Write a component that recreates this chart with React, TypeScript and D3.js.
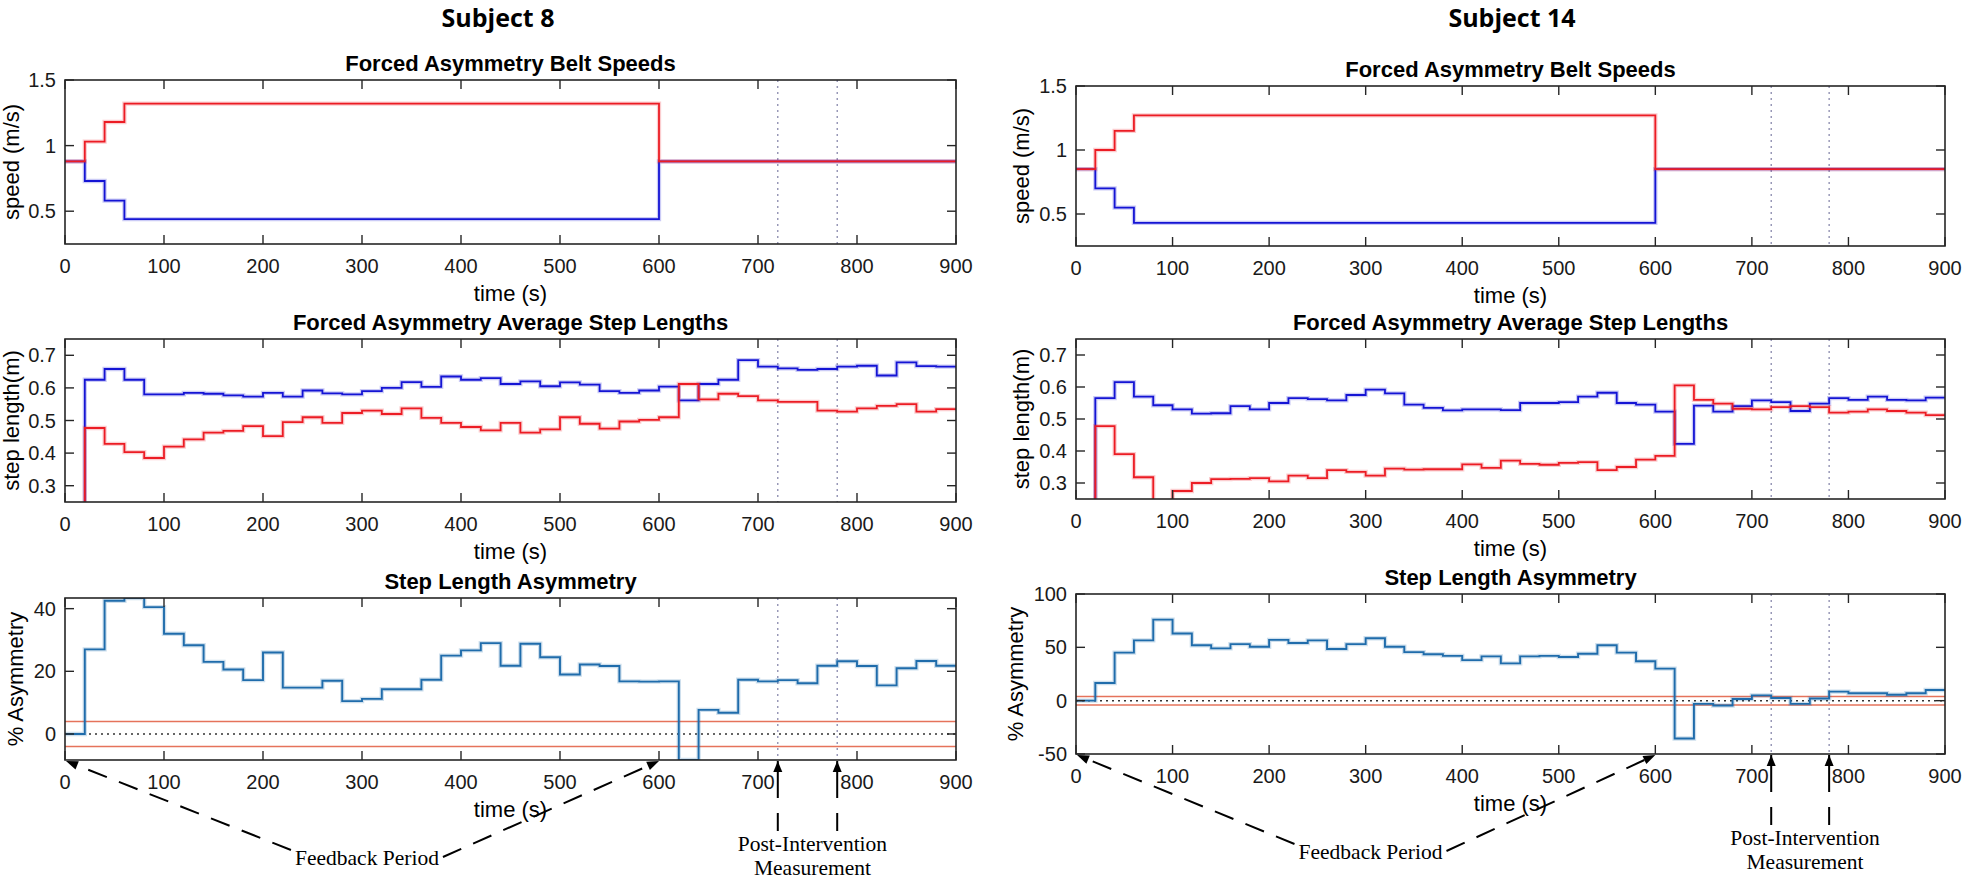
import React from 'react';
import * as d3 from 'd3';

// ---------------- DATA ----------------
const binStarts = [0, 20, 40, 60, 80, 100, 120, 140, 160, 180, 200, 220, 240, 260, 280, 300, 320, 340, 360, 380, 400, 420, 440, 460, 480, 500, 520, 540, 560, 580, 600, 620, 640, 660, 680, 700, 720, 740, 760, 780, 800, 820, 840, 860, 880];
const timeEnd = 900;
const xTicks = [0, 100, 200, 300, 400, 500, 600, 700, 800, 900];
const measureTimes = [720, 780];
const feedbackTimes = [0, 600];

const beltTimes = [0, 20, 40, 60, 600];
const s8BeltRed = [0.88, 1.03, 1.18, 1.32, 0.88];
const s8BeltBlue = [0.88, 0.73, 0.58, 0.44, 0.88];
const s14BeltRed = [0.85, 1.0, 1.15, 1.27, 0.85];
const s14BeltBlue = [0.85, 0.7, 0.55, 0.43, 0.85];

const s8StepBlue = [0, 0.625, 0.658, 0.625, 0.58, 0.58, 0.585, 0.582, 0.577, 0.573, 0.585, 0.573, 0.592, 0.583, 0.58, 0.59, 0.6, 0.618, 0.603, 0.635, 0.625, 0.63, 0.612, 0.62, 0.605, 0.617, 0.61, 0.59, 0.585, 0.592, 0.604, 0.562, 0.612, 0.625, 0.685, 0.665, 0.66, 0.655, 0.658, 0.665, 0.668, 0.638, 0.678, 0.667, 0.665];
const s8StepRed = [0, 0.477, 0.428, 0.403, 0.385, 0.42, 0.442, 0.463, 0.468, 0.483, 0.452, 0.495, 0.51, 0.493, 0.523, 0.53, 0.52, 0.537, 0.508, 0.493, 0.48, 0.47, 0.493, 0.463, 0.473, 0.51, 0.49, 0.475, 0.497, 0.502, 0.51, 0.612, 0.565, 0.582, 0.575, 0.562, 0.557, 0.557, 0.53, 0.527, 0.537, 0.545, 0.55, 0.527, 0.535];
const s8Asym = [0, 27, 42.5, 43.4, 40.5, 32, 28.3, 23, 20.6, 17.2, 26, 14.8, 14.8, 17, 10.5, 11.2, 14.3, 14.3, 17.3, 25, 26.7, 29, 21.8, 28.8, 24.5, 19, 22.2, 21.7, 16.8, 16.7, 16.8, -8.3, 7.7, 6.8, 17.3, 16.8, 17.2, 16.2, 21.8, 23.2, 21.7, 15.5, 21, 23.3, 21.8];

const s14StepBlue = [0, 0.565, 0.615, 0.57, 0.543, 0.53, 0.517, 0.518, 0.54, 0.53, 0.55, 0.565, 0.562, 0.558, 0.575, 0.592, 0.58, 0.545, 0.535, 0.527, 0.53, 0.53, 0.528, 0.55, 0.55, 0.553, 0.57, 0.582, 0.55, 0.545, 0.523, 0.422, 0.542, 0.523, 0.54, 0.558, 0.553, 0.525, 0.548, 0.565, 0.56, 0.57, 0.56, 0.558, 0.567];
const s14StepRed = [0, 0.478, 0.39, 0.318, 0.244, 0.275, 0.3, 0.312, 0.313, 0.315, 0.305, 0.323, 0.315, 0.34, 0.335, 0.323, 0.345, 0.342, 0.343, 0.343, 0.358, 0.347, 0.37, 0.36, 0.357, 0.363, 0.365, 0.34, 0.35, 0.373, 0.385, 0.605, 0.56, 0.548, 0.532, 0.53, 0.537, 0.54, 0.537, 0.52, 0.523, 0.53, 0.525, 0.52, 0.512];
const s14Asym = [0, 16.5, 45, 56.5, 76, 63, 52, 49, 53, 50.5, 57, 54, 56.5, 48.5, 53, 58.5, 50.5, 45.5, 43.5, 42, 38, 41.5, 35, 41.5, 42, 41, 44, 52, 45, 37, 30, -35.5, -3, -4.5, 1.5, 5, 2.5, -3, 2, 8.5, 7, 7, 5.5, 7, 10];

const asymThreshold = [4, -4];

// ---------------- STYLE ----------------
const SANS = "'Liberation Sans', Arial, Helvetica, sans-serif";
const SERIF = "'Liberation Serif', 'Times New Roman', serif";
const AXIS_COLOR = '#262626';
const RED = '#ec1c24';
const BLUE = '#1414d4';
const ASYM = '#1f6cab';
const THRESH = '#e5735b';
const MARK = '#7f7fa6';

type Series = { times: number[]; values: number[]; color: string; width: number };
type HLine = { v: number; color: string; width: number; dash?: string };
type PanelSpec = {
  top: number; bottom: number; title: string; ylabel: string;
  yDomain: [number, number]; yTicks: number[]; ylabelOffset: number;
  series: Series[]; hlines: HLine[]; annotate?: boolean;
};
type ColumnSpec = { id: string; left: number; right: number; subject: string; subjectX: number; panels: PanelSpec[] };

const columns: ColumnSpec[] = [
  {
    id: 's8', left: 65, right: 956, subject: 'Subject 8', subjectX: 498,
    panels: [
      { top: 80, bottom: 244, title: 'Forced Asymmetry Belt Speeds', ylabel: 'speed (m/s)', yDomain: [0.25, 1.5], yTicks: [0.5, 1, 1.5], ylabelOffset: 46,
        series: [{ times: beltTimes, values: s8BeltBlue, color: BLUE, width: 1.8 }, { times: beltTimes, values: s8BeltRed, color: RED, width: 1.8 }], hlines: [] },
      { top: 339, bottom: 502, title: 'Forced Asymmetry Average Step Lengths', ylabel: 'step length(m)', yDomain: [0.25, 0.75], yTicks: [0.3, 0.4, 0.5, 0.6, 0.7], ylabelOffset: 46,
        series: [{ times: binStarts, values: s8StepBlue, color: BLUE, width: 1.8 }, { times: binStarts, values: s8StepRed, color: RED, width: 1.8 }], hlines: [] },
      { top: 598, bottom: 760, title: 'Step Length Asymmetry', ylabel: '% Asymmetry', yDomain: [-8.3, 43.4], yTicks: [0, 20, 40], ylabelOffset: 42,
        series: [{ times: binStarts, values: s8Asym, color: ASYM, width: 1.9 }],
        hlines: [{ v: asymThreshold[0], color: THRESH, width: 1.5 }, { v: asymThreshold[1], color: THRESH, width: 1.5 }, { v: 0, color: '#333', width: 1.5, dash: '2,4' }], annotate: true },
    ],
  },
  {
    id: 's14', left: 1076, right: 1945, subject: 'Subject 14', subjectX: 1512,
    panels: [
      { top: 86, bottom: 246, title: 'Forced Asymmetry Belt Speeds', ylabel: 'speed (m/s)', yDomain: [0.25, 1.5], yTicks: [0.5, 1, 1.5], ylabelOffset: 47,
        series: [{ times: beltTimes, values: s14BeltBlue, color: BLUE, width: 1.8 }, { times: beltTimes, values: s14BeltRed, color: RED, width: 1.8 }], hlines: [] },
      { top: 339, bottom: 499, title: 'Forced Asymmetry Average Step Lengths', ylabel: 'step length(m)', yDomain: [0.25, 0.75], yTicks: [0.3, 0.4, 0.5, 0.6, 0.7], ylabelOffset: 47,
        series: [{ times: binStarts, values: s14StepBlue, color: BLUE, width: 1.8 }, { times: binStarts, values: s14StepRed, color: RED, width: 1.8 }], hlines: [] },
      { top: 594, bottom: 754, title: 'Step Length Asymmetry', ylabel: '% Asymmetry', yDomain: [-50, 100], yTicks: [-50, 0, 50, 100], ylabelOffset: 53,
        series: [{ times: binStarts, values: s14Asym, color: ASYM, width: 1.9 }],
        hlines: [{ v: asymThreshold[0], color: THRESH, width: 1.5 }, { v: asymThreshold[1], color: THRESH, width: 1.5 }, { v: 0, color: '#333', width: 1.5, dash: '2,4' }], annotate: true },
    ],
  },
];

function arrowHead(tx: number, ty: number, fx: number, fy: number, len = 12, halfW = 4.5) {
  const dx = tx - fx, dy = ty - fy;
  const d = Math.hypot(dx, dy) || 1;
  const ux = dx / d, uy = dy / d;
  const bx = tx - ux * len, by = ty - uy * len;
  const px = -uy * halfW, py = ux * halfW;
  return { points: `${tx},${ty} ${bx + px},${by + py} ${bx - px},${by - py}`, bx, by };
}

function Panel({ col, p, idx }: { col: ColumnSpec; p: PanelSpec; idx: number }) {
  const x = d3.scaleLinear().domain([0, timeEnd]).range([col.left, col.right]);
  const y = d3.scaleLinear().domain(p.yDomain).range([p.bottom, p.top]);
  const clipId = `clip-${col.id}-${idx}`;
  const tickLen = 9;
  const line = d3.line<[number, number]>().x(d => x(d[0])).y(d => y(d[1])).curve(d3.curveStepAfter);
  const cx = (col.left + col.right) / 2;
  const cy = (p.top + p.bottom) / 2;

  return (
    <g>
      <defs>
        <clipPath id={clipId}>
          <rect x={col.left} y={p.top} width={col.right - col.left} height={p.bottom - p.top} />
        </clipPath>
      </defs>
      <text x={cx} y={p.top - 9} textAnchor="middle" fontFamily={SANS} fontWeight="bold" fontSize={22} fill="#000">{p.title}</text>
      <g clipPath={`url(#${clipId})`}>
        {measureTimes.map(t => (
          <line key={t} x1={x(t)} x2={x(t)} y1={p.top} y2={p.bottom} stroke={MARK} strokeWidth={1.2} strokeDasharray="2,4" />
        ))}
        {p.hlines.map((h, i) => (
          <line key={i} x1={col.left} x2={col.right} y1={y(h.v)} y2={y(h.v)} stroke={h.color} strokeWidth={h.width} strokeDasharray={h.dash} />
        ))}
        {p.series.map((s, i) => {
          const pts: [number, number][] = s.times.map((t, j) => [t, s.values[j]] as [number, number]);
          pts.push([timeEnd, s.values[s.values.length - 1]]);
          const dstr = line(pts) || '';
          return (
            <g key={i}>
              <path d={dstr} fill="none" stroke={s.color} strokeOpacity={0.22} strokeWidth={s.width + 2.5} />
              <path d={dstr} fill="none" stroke={s.color} strokeWidth={s.width} />
            </g>
          );
        })}
      </g>
      <rect x={col.left} y={p.top} width={col.right - col.left} height={p.bottom - p.top} fill="none" stroke={AXIS_COLOR} strokeWidth={1.6} />
      {xTicks.map(t => (
        <g key={t}>
          <line x1={x(t)} x2={x(t)} y1={p.bottom} y2={p.bottom - tickLen} stroke={AXIS_COLOR} strokeWidth={1.4} />
          <line x1={x(t)} x2={x(t)} y1={p.top} y2={p.top + tickLen} stroke={AXIS_COLOR} strokeWidth={1.4} />
          <text x={x(t)} y={p.bottom + 29} textAnchor="middle" fontFamily={SANS} fontSize={20} fill="#1a1a1a">{t}</text>
        </g>
      ))}
      {p.yTicks.map(v => (
        <g key={v}>
          <line x1={col.left} x2={col.left + tickLen} y1={y(v)} y2={y(v)} stroke={AXIS_COLOR} strokeWidth={1.4} />
          <line x1={col.right} x2={col.right - tickLen} y1={y(v)} y2={y(v)} stroke={AXIS_COLOR} strokeWidth={1.4} />
          <text x={col.left - 9} y={y(v) + 7} textAnchor="end" fontFamily={SANS} fontSize={20} fill="#1a1a1a">{String(v)}</text>
        </g>
      ))}
      <text x={cx} y={p.bottom + 57} textAnchor="middle" fontFamily={SANS} fontSize={22} fill="#000">time (s)</text>
      <text transform={`translate(${col.left - p.ylabelOffset},${cy}) rotate(-90)`} textAnchor="middle" fontFamily={SANS} fontSize={22} fill="#000">{p.ylabel}</text>
      {p.annotate && <Annotations col={col} p={p} x={x} />}
    </g>
  );
}

function Annotations({ col, p, x }: { col: ColumnSpec; p: PanelSpec; x: d3.ScaleLinear<number, number> }) {
  const fbCx = x(305);
  const fbBase = p.bottom + 105;
  const halfText = 73;
  const start1 = { x: fbCx - halfText - 3, y: fbBase - 15 };
  const start2 = { x: fbCx + halfText + 3, y: fbBase - 8 };
  const tip1 = { x: x(feedbackTimes[0]) + 1, y: p.bottom + 1 };
  const tip2 = { x: x(feedbackTimes[1]), y: p.bottom + 1 };
  const a1 = arrowHead(tip1.x, tip1.y, start1.x, start1.y);
  const a2 = arrowHead(tip2.x, tip2.y, start2.x, start2.y);
  const piCx = x(755);
  return (
    <g>
      <line x1={start1.x} y1={start1.y} x2={a1.bx} y2={a1.by} stroke="#000" strokeWidth={2} strokeDasharray="20,13" />
      <polygon points={a1.points} fill="#000" />
      <line x1={start2.x} y1={start2.y} x2={a2.bx} y2={a2.by} stroke="#000" strokeWidth={2} strokeDasharray="20,13" />
      <polygon points={a2.points} fill="#000" />
      <text x={fbCx} y={fbBase} textAnchor="middle" fontFamily={SERIF} fontSize={21.5} fill="#000">Feedback Period</text>
      {measureTimes.map(t => {
        const tip = { x: x(t), y: p.bottom + 1 };
        const a = arrowHead(tip.x, tip.y, tip.x, tip.y + 50, 11, 4.5);
        return (
          <g key={t}>
            <line x1={tip.x} x2={tip.x} y1={p.bottom + 1} y2={p.bottom + 72} stroke="#000" strokeWidth={2} strokeDasharray="37,15,18,200" />
            <polygon points={a.points} fill="#000" />
          </g>
        );
      })}
      <text x={piCx} y={p.bottom + 91} textAnchor="middle" fontFamily={SERIF} fontSize={21.5} fill="#000">Post-Intervention</text>
      <text x={piCx} y={p.bottom + 115} textAnchor="middle" fontFamily={SERIF} fontSize={21.5} fill="#000">Measurement</text>
    </g>
  );
}

export default function App() {
  return (
    <svg width={1968} height={880} style={{ position: 'absolute', left: 0, top: 0, background: '#fff' }} xmlns="http://www.w3.org/2000/svg">
      <rect x={0} y={0} width={1968} height={880} fill="#fff" />
      {columns.map(col => (
        <g key={col.id}>
          <text x={col.subjectX} y={27} textAnchor="middle" fontFamily="'Open Sans', 'Noto Sans', sans-serif" fontWeight="bold" fontSize={25} fill="#000">{col.subject}</text>
          {col.panels.map((p, i) => <Panel key={i} col={col} p={p} idx={i} />)}
        </g>
      ))}
    </svg>
  );
}
